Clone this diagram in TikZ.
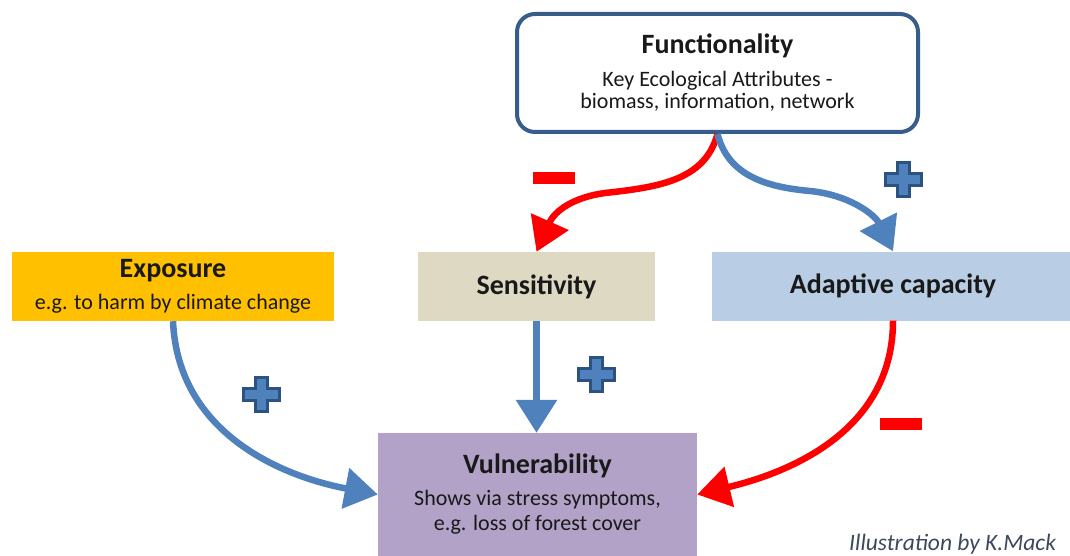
\documentclass[tikz,border=0pt]{standalone}
\usepackage{fontspec}
\setmainfont{Carlito}
\usetikzlibrary{arrows.meta, calc}

\definecolor{exposurecol}{RGB}{255,192,0}
\definecolor{sensitcol}{RGB}{221,217,195}
\definecolor{adaptcol}{RGB}{185,205,229}
\definecolor{vulncol}{RGB}{179,162,199}
\definecolor{funcborder}{RGB}{56,93,138}
\definecolor{arrowblue}{RGB}{79,129,189}
\definecolor{plusdark}{RGB}{44,82,130}
\definecolor{arrowred}{RGB}{255,0,0}
\definecolor{creditcol}{RGB}{60,72,92}
\definecolor{textcol}{RGB}{25,25,25}

\newcommand{\boxtitle}[1]{{\fontsize{28}{28}\selectfont\bfseries #1}}

\begin{document}
\begin{tikzpicture}[x=1pt, y=1pt,
    box/.style={minimum height=69pt, inner sep=0pt, align=center, text=textcol, font=\fontsize{22}{22}\selectfont},
    posarrow/.style={line width=6.5pt, draw=arrowblue, -{Triangle[length=33pt,width=40pt]}},
    negarrow/.style={line width=6.5pt, draw=arrowred, -{Triangle[length=33pt,width=40pt]}},
    plussign/.style={minimum width=40pt, minimum height=37pt, inner sep=0pt,
        path picture={\filldraw[draw=plusdark, fill=arrowblue, line width=3pt, shift={(path picture bounding box.center)}]
            (-6,17) -- (6,17) -- (6,6) -- (18,6) -- (18,-6) -- (6,-6) -- (6,-17) -- (-6,-17)
            -- (-6,-6) -- (-18,-6) -- (-18,6) -- (-6,6) -- cycle;}},
    minussign/.style={fill=arrowred, minimum width=42pt, minimum height=12pt, inner sep=0pt}]

    \useasboundingbox (0,0) rectangle (1070,555);

    % boxes
    \node (func) [draw=funcborder, line width=4pt, rounded corners=18pt, fill=white, minimum width=401pt,
        minimum height=118pt, inner sep=0pt, align=center, text=textcol, font=\fontsize{22}{22}\selectfont] at (717.5,482)
        {\boxtitle{Functionality}\\[11pt] Key Ecological Attributes -\\ biomass, information, network};
    \node (expo) [box, fill=exposurecol, minimum width=322pt] at (173,268.5)
        {\boxtitle{Exposure}\\[10pt] e.g. to harm by climate change};
    \node (sens) [box, fill=sensitcol, minimum width=237pt] at (536.5,268.5) {\boxtitle{Sensitivity}};
    \node (adapt) [box, fill=adaptcol, minimum width=362pt] at (893,269) {\boxtitle{Adaptive capacity}};
    \node (vuln) [box, fill=vulncol, minimum width=319pt, minimum height=123pt] at (537.5,60.5)
        {\boxtitle{Vulnerability}\\[10pt] Shows via stress symptoms,\\[3pt] e.g. loss of forest cover};

    % arrows
    \draw[negarrow] (func.south) .. controls (705,375) and (660,368) .. (605,362)
        .. controls (575,358) and (555,345) .. (sens.north);
    \draw[posarrow] (func.south) .. controls (728,380) and (765,368) .. (810,364)
        .. controls (850,360) and (875,340) .. (adapt.north);
    \draw[posarrow] (expo.south) .. controls (178,120) and (285,78) .. (vuln.west);
    \draw[posarrow] (sens.south) -- (sens.south |- vuln.north);
    \draw[negarrow] (adapt.south) .. controls (893,130) and (800,85) .. (vuln.east);

    % signs
    \node (minus1) [minussign] at (554,376.5) {};
    \node (plus1) [plussign] at (903,375) {};
    \node (plus2) [plussign] at (261,160.5) {};
    \node (plus3) [plussign] at (596,181) {};
    \node (minus2) [minussign] at (901,131.5) {};

    \node (credit) [anchor=base west, inner sep=0pt, text=creditcol, font=\fontsize{23.5}{24}\selectfont\itshape] at (849,5)
        {Illustration by K.Mack};

\end{tikzpicture}
\end{document}
